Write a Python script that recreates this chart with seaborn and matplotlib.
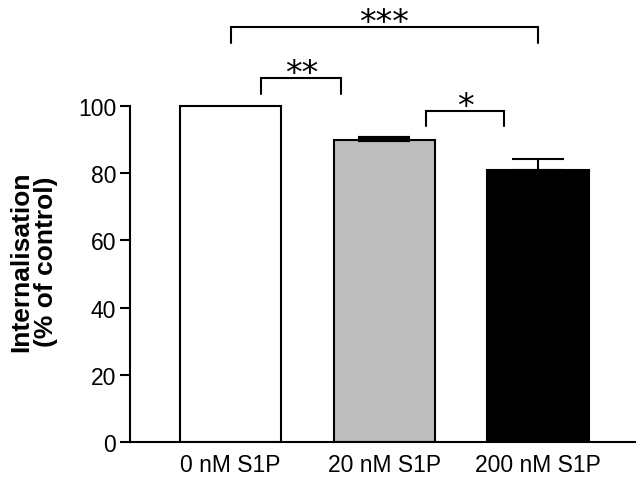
import matplotlib
matplotlib.use("Agg")
import matplotlib.pyplot as plt
import seaborn as sns
import pandas as pd

categories = ["0 nM S1P", "20 nM S1P", "200 nM S1P"]
values = [100.0, 90.0, 81.0]
errors = [0.0, 0.4, 3.1]
bar_colors = ["#ffffff", "#bdbdbd", "#000000"]
yticks = [0, 20, 40, 60, 80, 100]
brackets = [  # (x1, x2, y_top, y_leg_bottom, label)
    (0, 2, 123.5, 118.7, "***"),
    (0.2, 0.72, 108.3, 103.5, "**"),
    (1.27, 1.78, 98.5, 94.0, "*"),
]

sns.set_style("ticks", {"text.color": "black", "axes.labelcolor": "black",
                        "xtick.color": "black", "ytick.color": "black",
                        "axes.edgecolor": "black"})
plt.rcParams["font.family"] = ["Liberation Sans", "DejaVu Sans"]

fig = plt.figure(figsize=(6.4, 4.85), dpi=100)
ax = fig.add_axes([130 / 640, 1 - 443 / 485, (635 - 130) / 640, (443 - 4) / 485])

df = pd.DataFrame({"cat": categories, "val": values})
sns.barplot(data=df, x="cat", y="val", hue="cat", palette=bar_colors, legend=False,
            width=0.66, edgecolor="black", linewidth=1.5, errorbar=None, ax=ax)

for i, (v, e) in enumerate(zip(values, errors)):
    if e > 0:
        ax.errorbar(i, v, yerr=[[0], [e]], fmt="none", ecolor="black",
                    elinewidth=1.5, capsize=18.5, capthick=1.5 if i == 2 else 3, zorder=1)

ax.set_xlim(-0.654, 2.63)
ax.set_ylim(0, (443 - 4) / 3.36)
ax.spines["left"].set_bounds(0, 100)
ax.spines["left"].set_linewidth(1.5)
ax.spines["bottom"].set_linewidth(1.5)
sns.despine(ax=ax)
ax.set_yticks(yticks)
ax.set_yticklabels([str(t) for t in yticks])
ax.tick_params(axis="y", direction="out", length=7, width=1.5, labelsize=16.5, pad=3,
               colors="black")
ax.tick_params(axis="x", length=0, labelsize=16.5, pad=8, colors="black")
ax.set_xlabel("")
ax.set_ylabel("Internalisation\n(% of control)", fontsize=19, fontweight="bold",
              linespacing=1.05, color="black")
ax.yaxis.set_label_coords(-0.143, 0.412)

for x1, x2, yt, yb, lab in brackets:
    ax.plot([x1, x1, x2, x2], [yb, yt, yt, yb], color="black", lw=1.5,
            clip_on=False, solid_joinstyle="miter")
    ax.annotate(lab, xy=((x1 + x2) / 2, yt), xytext=(0, -3.5), textcoords="offset points",
                ha="center", va="baseline", fontsize=24, family="DejaVu Sans",
                color="black", annotation_clip=False)

fig.savefig("out.png", dpi=100)
